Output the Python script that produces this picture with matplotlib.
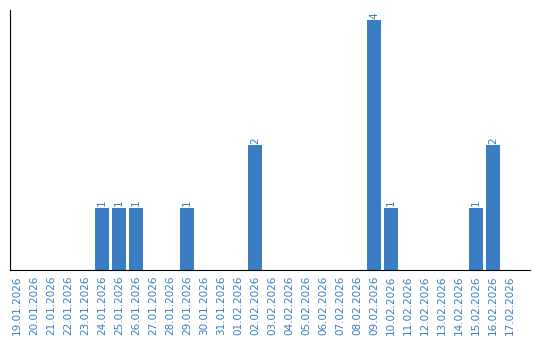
import matplotlib
matplotlib.use("Agg")
import matplotlib.pyplot as plt

dates = ["19.01.2026", "20.01.2026", "21.01.2026", "22.01.2026", "23.01.2026",
         "24.01.2026", "25.01.2026", "26.01.2026", "27.01.2026", "28.01.2026",
         "29.01.2026", "30.01.2026", "31.01.2026", "01.02.2026", "02.02.2026",
         "03.02.2026", "04.02.2026", "05.02.2026", "06.02.2026", "07.02.2026",
         "08.02.2026", "09.02.2026", "10.02.2026", "11.02.2026", "12.02.2026",
         "13.02.2026", "14.02.2026", "15.02.2026", "16.02.2026", "17.02.2026"]
counts = [0, 0, 0, 0, 0,
          1, 1, 1, 0, 0,
          1, 0, 0, 0, 2,
          0, 0, 0, 0, 0,
          0, 4, 1, 0, 0,
          0, 0, 1, 2, 0]

blue = "#3a7dc2"

fig = plt.figure(figsize=(5.4, 3.4), dpi=100)
ax = fig.add_axes([10 / 540, 70 / 340, 520 / 540, 260 / 340])

x = list(range(len(dates)))
ax.bar(x, counts, width=0.82, color=blue)
for xi, c in zip(x, counts):
    if c > 0:
        ax.text(xi, c + 0.02, str(c), rotation=90, ha="center", va="bottom",
                color=blue, fontsize=7.5)

ax.set_xlim(-0.41, 30.18)
ax.set_ylim(0, 4.16)
ax.set_xticks(x)
ax.set_xticklabels(dates, rotation=90, fontsize=7.5, color=blue)
ax.tick_params(axis="x", length=0, pad=4)
ax.set_yticks([])
ax.spines["top"].set_visible(False)
ax.spines["right"].set_visible(False)

fig.savefig("out.png", dpi=100)
plt.close(fig)
